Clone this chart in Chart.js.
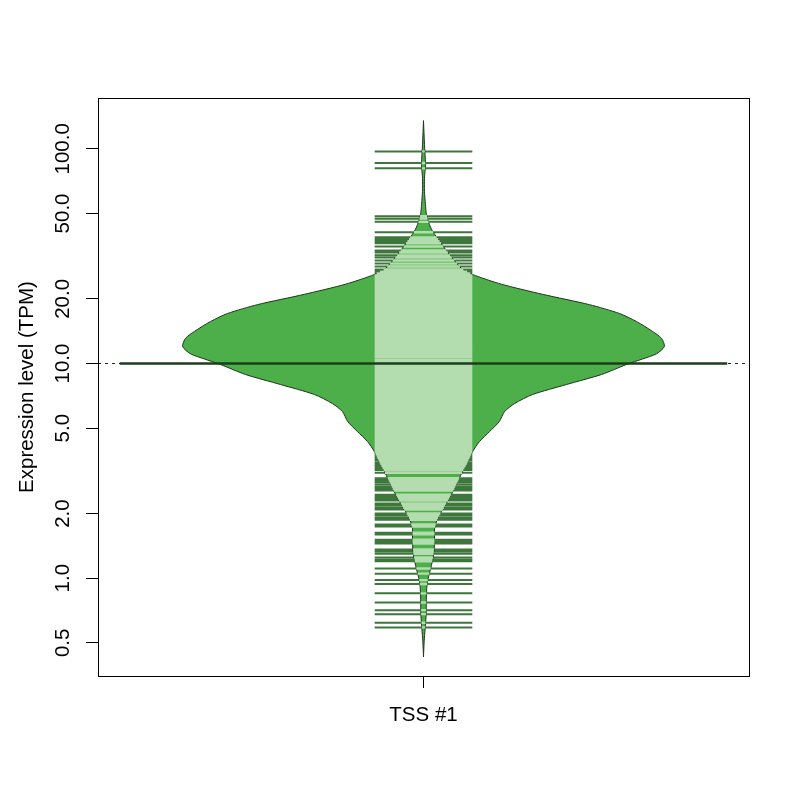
<!DOCTYPE html>
<html>
<head>
<meta charset="utf-8">
<script src="https://cdn.jsdelivr.net/npm/chart.js@4.4.1/dist/chart.umd.min.js"></script>
<style>
    html, body { margin: 0; padding: 0; background: #fff; }
    canvas { display: block; }
</style>
</head>
<body>
<canvas id="beanChart" width="800" height="800"></canvas>
<script>
// Categories and axis ticks
const categories = ['TSS #1'];
const tickValues = [0.5, 1, 2, 5, 10, 20, 50, 100];
const tickLabels = ['0.5', '1.0', '2.0', '5.0', '10.0', '20.0', '50.0', '100.0'];

// Bean outline: TPM level (top to bottom) and density half-width at that level
const beanLevels = [135.4, 105, 84.7, 72.9, 63.4, 55.1, 49.5, 44.5, 41.3, 38.3, 34.4, 30.9, 27.7, 26.0,
    23.4, 21.0, 18.8, 17.1, 15.7, 14.1, 13.1, 12.0, 11.1, 10.5, 9.9, 8.89, 7.98, 7.17, 6.51, 5.97,
    5.37, 4.82, 4.33, 3.89, 3.38, 3.14, 2.61, 2.20, 1.89, 1.70, 1.48, 1.29, 1.107, 0.963, 0.838,
    0.676, 0.581, 0.506, 0.43];
const beanWidths = [0, 0.003, 0.006, 0.003, 0.003, 0.006, 0.009, 0.018, 0.028, 0.043, 0.065, 0.089, 0.117, 0.15,
    0.24, 0.366, 0.51, 0.602, 0.654, 0.704, 0.731, 0.74, 0.716, 0.673, 0.624, 0.547, 0.439, 0.335, 0.28, 0.249,
    0.233, 0.203, 0.172, 0.151, 0.132, 0.12, 0.095, 0.068, 0.043, 0.034, 0.034, 0.031, 0.022, 0.012, 0.009,
    0.008, 0.005, 0.002, 0];

// Individual observations (bean lines), TPM
const tpmValues = [
    97.3, 85.9, 81.1, 48.5, 47.3, 45.7, 40.9,
    38.7, 37.9, 37.1, 36.3, 35.1, 33.6, 32.9, 31.9, 31.2, 30.2, 29.2, 28.3, 27.4, 26.8, 26.3,
    25.7, 25.2, 24.6, 24.1, 23.6, 23.1, 22.6, 22.1, 21.6, 21.2, 20.7, 20.3, 19.8, 19.4, 19.0, 18.6,
    18.2, 17.8, 17.4, 17.1, 16.7, 16.4, 16.0, 15.7, 15.3, 15.0, 14.7, 14.4, 14.1, 13.8, 13.5, 13.2,
    12.9, 12.6, 12.4, 12.1, 11.8, 11.6, 11.4, 11.1, 10.9, 10.7, 10.4, 10.2, 10.0, 9.8, 9.6, 9.4,
    9.2, 9.0, 8.8, 8.6, 8.4, 8.2, 8.0, 7.86, 7.69, 7.53, 7.37, 7.21, 7.06, 6.91, 6.76, 6.62, 6.48,
    6.34, 6.20, 6.07, 5.94, 5.82, 5.69, 5.57, 5.45, 5.34, 5.22, 5.11, 5.00, 4.90, 4.79, 4.69, 4.59,
    4.49, 4.40, 4.30, 4.21, 4.12, 4.04, 3.95, 3.87,
    3.78, 3.70, 3.63, 3.55, 3.47, 3.40, 3.33, 3.26, 3.19, 3.10, 2.92, 2.86, 2.80, 2.73, 2.67, 2.61,
    2.56, 2.45, 2.40, 2.35, 2.30, 2.23, 2.18, 2.13, 2.09, 2.00, 1.96, 1.91, 1.87, 1.78, 1.74, 1.63, 1.60,
    1.51, 1.48, 1.45, 1.36, 1.33, 1.30, 1.25, 1.22, 1.20, 1.11, 1.05, 0.98, 0.94, 0.85, 0.77, 0.71,
    0.68, 0.62, 0.59
];

const beanAverage = 10.0;
const overallAverage = 10.0;

const FONT = 'Liberation Sans, Arial, Helvetica, sans-serif';
const FONT_SIZE = 20.5;
const LINE_HALF = 0.15;   // half length of bean lines (x units)
const AVG_HALF = 0.933;   // half length of bean average line

// density half-width at a given TPM, interpolated along the outline in log space
function beanWidthAt(v) {
    for (let i = 0; i < beanLevels.length - 1; i++) {
        const hi = beanLevels[i], lo = beanLevels[i + 1];
        if (v <= hi && v >= lo) {
            const t = (Math.log(v) - Math.log(lo)) / (Math.log(hi) - Math.log(lo));
            return beanWidths[i + 1] + t * (beanWidths[i] - beanWidths[i + 1]);
        }
    }
    return 0;
}

// Closed outline: right side going down, left side going back up
const outlinePoints = beanLevels.map((lv, i) => ({ x: beanWidths[i], y: lv }));
for (let i = beanLevels.length - 1; i >= 0; i--) {
    outlinePoints.push({ x: -beanWidths[i], y: beanLevels[i] });
}

// Bean lines: full length (outside colour) and clipped to the bean (inside colour)
const outsidePoints = [];
const insidePoints = [];
tpmValues.forEach(v => {
    outsidePoints.push({ x: -LINE_HALF, y: v }, { x: LINE_HALF, y: v }, { x: null, y: null });
    const w = Math.min(LINE_HALF, beanWidthAt(v));
    if (w > 0.001) {
        insidePoints.push({ x: -w, y: v }, { x: w, y: v }, { x: null, y: null });
    }
});

// plot box like R's box()
const boxPlugin = {
    id: 'plotBox',
    afterDraw(chart) {
        const { ctx, chartArea } = chart;
        ctx.save();
        ctx.strokeStyle = '#000';
        ctx.lineWidth = 1;
        ctx.strokeRect(Math.round(chartArea.left) + 0.5, Math.round(chartArea.top) + 0.5,
            Math.round(chartArea.right - chartArea.left), Math.round(chartArea.bottom - chartArea.top));
        ctx.restore();
    }
};

const ctx = document.getElementById('beanChart');
new Chart(ctx, {
    type: 'line',
    data: {
        datasets: [
            {
                label: 'overall average',
                data: [{ x: -1, y: overallAverage }, { x: 1, y: overallAverage }],
                borderColor: '#222222',
                borderWidth: 1.2,
                borderDash: [3, 4],
                order: 6
            },
            {
                label: 'lines outside',
                data: outsidePoints,
                borderColor: 'rgba(40, 104, 38, 0.9)',
                borderWidth: 2,
                spanGaps: false,
                order: 5
            },
            {
                label: 'bean',
                data: outlinePoints,
                borderColor: '#1c361b',
                borderWidth: 1,
                backgroundColor: '#4DAF4A',
                fill: 'shape',
                tension: 0.25,
                order: 4
            },
            {
                label: 'lines inside',
                data: insidePoints,
                borderColor: '#b3ddae',
                borderWidth: 2.4,
                spanGaps: false,
                order: 3
            },
            {
                label: 'bean average',
                data: [{ x: -AVG_HALF, y: beanAverage }, { x: AVG_HALF, y: beanAverage }],
                borderColor: '#1d3c1c',
                borderWidth: 2.5,
                order: 1
            }
        ]
    },
    options: {
        responsive: false,
        animation: false,
        devicePixelRatio: 1,
        layout: { padding: { top: 98, right: 51, left: 0, bottom: 0 } },
        elements: { point: { radius: 0 } },
        plugins: {
            legend: { display: false },
            tooltip: { enabled: false }
        },
        scales: {
            x: {
                type: 'linear',
                min: -1,
                max: 1,
                afterBuildTicks: scale => { scale.ticks = [{ value: 0 }]; },
                afterFit: scale => { scale.height = 124; },
                ticks: {
                    callback: () => categories[0],
                    autoSkip: false,
                    maxRotation: 0,
                    padding: 15,
                    color: '#000',
                    font: { family: FONT, size: FONT_SIZE }
                },
                grid: { drawOnChartArea: false, tickLength: 12, color: '#000' },
                border: { color: '#000' }
            },
            y: {
                type: 'logarithmic',
                min: 0.3503,
                max: 172.5,
                afterBuildTicks: scale => { scale.ticks = tickValues.map(v => ({ value: v })); },
                afterFit: scale => { scale.width = 98; },
                ticks: {
                    callback: (value, index) => tickLabels[index],
                    autoSkip: false,
                    minRotation: 90,
                    maxRotation: 90,
                    crossAlign: 'center',
                    padding: -3,
                    color: '#000',
                    font: { family: FONT, size: FONT_SIZE }
                },
                grid: { drawOnChartArea: false, tickLength: 12, color: '#000' },
                border: { color: '#000' },
                title: {
                    display: true,
                    text: 'Expression level (TPM)',
                    color: '#000',
                    font: { family: FONT, size: FONT_SIZE },
                    padding: { top: 14.7, bottom: 0 }
                }
            }
        }
    },
    plugins: [boxPlugin]
});
</script>
</body>
</html>
